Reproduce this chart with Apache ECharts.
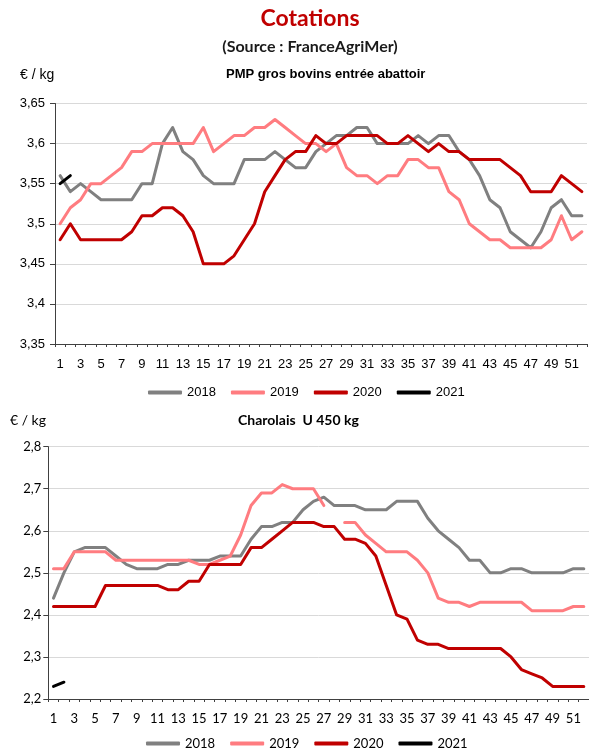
<!DOCTYPE html>
<html>
<head>
<meta charset="utf-8">
<script src="https://cdn.jsdelivr.net/npm/echarts@6/dist/echarts.min.js"></script>
<style>
html,body{margin:0;padding:0;background:#fff;}
#c{width:589px;height:751px;}
</style>
</head>
<body>
<div id="c"></div>
<script>
// ---- Data ----
var weeks = [];
for (var w = 1; w <= 52; w++) weeks.push(String(w));

var years = ['2018', '2019', '2020', '2021'];

// PMP gros bovins entrée abattoir (€/kg)
var pmp2018 = [3.56,3.54,3.55,3.54,3.53,3.53,3.53,3.53,3.55,3.55,3.60,3.62,3.59,3.58,3.56,3.55,3.55,3.55,3.58,3.58,3.58,3.59,3.58,3.57,3.57,3.59,3.60,3.61,3.61,3.62,3.62,3.60,3.60,3.60,3.60,3.61,3.60,3.61,3.61,3.59,3.58,3.56,3.53,3.52,3.49,3.48,3.47,3.49,3.52,3.53,3.51,3.51];
var pmp2019 = [3.50,3.52,3.53,3.55,3.55,3.56,3.57,3.59,3.59,3.60,3.60,3.60,3.60,3.60,3.62,3.59,3.60,3.61,3.61,3.62,3.62,3.63,3.62,3.61,3.60,3.60,3.59,3.60,3.57,3.56,3.56,3.55,3.56,3.56,3.58,3.58,3.57,3.57,3.54,3.53,3.50,3.49,3.48,3.48,3.47,3.47,3.47,3.47,3.48,3.51,3.48,3.49];
var pmp2020 = [3.48,3.50,3.48,3.48,3.48,3.48,3.48,3.49,3.51,3.51,3.52,3.52,3.51,3.49,3.45,3.45,3.45,3.46,3.48,3.50,3.54,3.56,3.58,3.59,3.59,3.61,3.60,3.60,3.61,3.61,3.61,3.61,3.60,3.60,3.61,3.60,3.59,3.60,3.59,3.59,3.58,3.58,3.58,3.58,3.57,3.56,3.54,3.54,3.54,3.56,3.55,3.54];
var pmp2021 = [3.55,3.56];

// Charolais U 450 kg (€/kg)
var cha2018 = [2.44,2.50,2.55,2.56,2.56,2.56,2.54,2.52,2.51,2.51,2.51,2.52,2.52,2.53,2.53,2.53,2.54,2.54,2.54,2.58,2.61,2.61,2.62,2.62,2.65,2.67,2.68,2.66,2.66,2.66,2.65,2.65,2.65,2.67,2.67,2.67,2.63,2.60,2.58,2.56,2.53,2.53,2.50,2.50,2.51,2.51,2.50,2.50,2.50,2.50,2.51,2.51];
var cha2019 = [2.51,2.51,2.55,2.55,2.55,2.55,2.53,2.53,2.53,2.53,2.53,2.53,2.53,2.53,2.52,2.52,2.53,2.54,2.59,2.66,2.69,2.69,2.71,2.70,2.70,2.70,2.66,null,2.62,2.62,2.59,2.57,2.55,2.55,2.55,2.53,2.50,2.44,2.43,2.43,2.42,2.43,2.43,2.43,2.43,2.43,2.41,2.41,2.41,2.41,2.42,2.42];
var cha2020 = [2.42,2.42,2.42,2.42,2.42,2.47,2.47,2.47,2.47,2.47,2.47,2.46,2.46,2.48,2.48,2.52,2.52,2.52,2.52,2.56,2.56,2.58,2.60,2.62,2.62,2.62,2.61,2.61,2.58,2.58,2.57,2.54,2.47,2.40,2.39,2.34,2.33,2.33,2.32,2.32,2.32,2.32,2.32,2.32,2.30,2.27,2.26,2.25,2.23,2.23,2.23,2.23];
var cha2021 = [2.23,2.24];

var yTicksTop = {min: 3.35, max: 3.65, interval: 0.05};
var yTicksBottom = {min: 2.2, max: 2.8, interval: 0.1};

// ---- Styles ----
var colors = {'2018': '#808080', '2019': '#FF7C80', '2020': '#C00000', '2021': '#000000'};
var fontTop = 'Liberation Sans, Arial, sans-serif';
var fontBot = 'Lato, sans-serif';

function fmt(v) { return String(+(+v).toFixed(2)).replace('.', ','); }

function mkSeries(name, data, idx) {
  return {
    name: name, type: 'line', data: data,
    xAxisIndex: idx, yAxisIndex: idx,
    symbol: 'none', smooth: false, connectNulls: false,
    lineStyle: {color: colors[name], width: 3, cap: 'round', join: 'round'},
    itemStyle: {color: colors[name]},
    emphasis: {disabled: true},
    z: name === '2021' ? 5 : 3
  };
}

function mkX(idx, font, margin) {
  return {
    gridIndex: idx, type: 'category', data: weeks, boundaryGap: true,
    axisLine: {show: true, lineStyle: {color: '#404040', width: 1}},
    axisTick: {show: true, interval: 0, length: 3, lineStyle: {color: '#404040'}},
    axisLabel: {interval: 1, color: '#000', fontSize: 13, fontFamily: font, margin: margin},
    splitLine: {show: false}
  };
}

function mkY(idx, t, font, margin) {
  return {
    gridIndex: idx, type: 'value', min: t.min, max: t.max, interval: t.interval,
    axisLine: {show: true, lineStyle: {color: '#404040', width: 1}},
    axisTick: {show: true, length: 5, lineStyle: {color: '#404040'}},
    axisLabel: {color: '#000', fontSize: 13, fontFamily: font, margin: margin, formatter: fmt},
    splitLine: {show: true, lineStyle: {color: '#D9D9D9', width: 1}}
  };
}

var chart = echarts.init(document.getElementById('c'));
chart.setOption({
  animation: false,
  backgroundColor: '#fff',
  grid: [
    {left: 55, top: 103.5, width: 532, height: 240.5},
    {left: 48.3, top: 446.7, width: 548.6, height: 252.3}
  ],
  xAxis: [mkX(0, fontTop, 14), mkX(1, fontBot, 13)],
  yAxis: [mkY(0, yTicksTop, fontTop, 10), mkY(1, yTicksBottom, fontBot, 7)],
  legend: [
    {data: years, left: 143, top: 381, icon: 'roundRect', itemWidth: 34, itemHeight: 4, itemGap: 15,
     textStyle: {fontSize: 13, fontFamily: fontTop, color: '#000'}, selectedMode: false},
    {data: years, left: 141, top: 732, icon: 'roundRect', itemWidth: 34, itemHeight: 4, itemGap: 15,
     textStyle: {fontSize: 13, fontFamily: fontBot, color: '#000'}, selectedMode: false}
  ],
  graphic: [
    {type: 'text', x: 310, y: 19, style: {text: 'Cotations', font: 'bold 23px Lato, sans-serif', fill: '#C00000', textAlign: 'center', textVerticalAlign: 'middle'}},
    {type: 'text', x: 310, y: 47, style: {text: '(Source : FranceAgriMer)', font: 'bold 16px Lato, sans-serif', fill: '#1a1a1a', textAlign: 'center', textVerticalAlign: 'middle'}},
    {type: 'text', left: 20, top: 68, style: {text: '€ / kg', font: '14px Liberation Sans, Arial, sans-serif', fill: '#000'}},
    {type: 'text', left: 226, top: 68, style: {text: 'PMP gros bovins entrée abattoir', font: 'bold 13px Liberation Sans, Arial, sans-serif', fill: '#000'}},
    {type: 'text', left: 10, top: 413, style: {text: '€ / kg', font: '14px Lato, sans-serif', fill: '#000'}},
    {type: 'text', left: 238, top: 413, style: {text: 'Charolais  U 450 kg', font: 'bold 14px Lato, sans-serif', fill: '#000'}}
  ],
  series: [
    mkSeries('2018', pmp2018, 0), mkSeries('2019', pmp2019, 0), mkSeries('2020', pmp2020, 0), mkSeries('2021', pmp2021, 0),
    mkSeries('2018', cha2018, 1), mkSeries('2019', cha2019, 1), mkSeries('2020', cha2020, 1), mkSeries('2021', cha2021, 1)
  ]
});
</script>
</body>
</html>
